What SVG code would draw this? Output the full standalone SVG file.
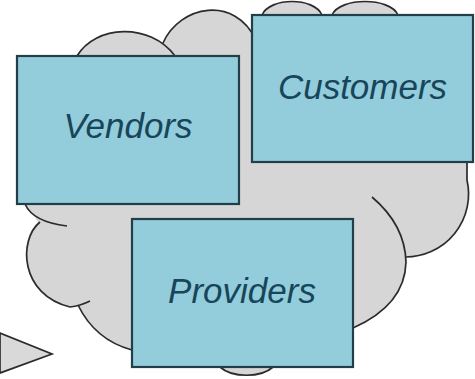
<svg xmlns="http://www.w3.org/2000/svg" width="475" height="379" viewBox="0 0 475 379">
<style>
.cf{fill:#d6d6d6;stroke:none}
.cs{fill:none;stroke:#2b2b2b;stroke-width:1.7}
.box{fill:#93ccda;stroke:#223f49;stroke-width:2.2}
.lbl{font-family:"Liberation Sans",Arial,sans-serif;font-style:italic;font-size:35px;fill:#17455a;text-anchor:middle}
</style>
<rect width="475" height="379" fill="#ffffff"/>
<g id="cloud">
<path class="cf" d="M77,56 C95,25 150,22 175,56 Z"/>
<path class="cf" d="M163,43 C180,5 235,-5 256,40 L256,56 L163,56 Z"/>
<path class="cf" d="M262,15 C270,-3 314,-3 322,15 Z"/>
<path class="cf" d="M332,15 C340,-3 390,-3 398,15 Z"/>
<path class="cf" d="M20,56 L252,56 L252,15 L470,15 L467,180 A63,63 0 0 1 405,257 L406,262 Q405,305 353,328 L353,367 L273,367 C261,378 232,378 220,367 L132,367 L132,350 Q95,340 78,305 L70,307 C20,295 18,240 38,222 L25,204 L20,204 Z"/>
<path class="cs" d="M77,56 C95,25 150,22 175,56"/>
<path class="cs" d="M163,43 C180,5 235,-5 256,40"/>
<path class="cs" d="M262,15 C270,-3 314,-3 322,15"/>
<path class="cs" d="M332,15 C340,-3 390,-3 398,15"/>
<path class="cs" d="M467,162 L467,180 A63,63 0 0 1 405,257"/>
<path class="cs" d="M372,197 Q405,225 406,262 Q405,305 353,328"/>
<path class="cs" d="M220,367 C232,378 261,378 273,367"/>
<path class="cs" d="M78,305 Q95,340 132,350"/>
<path class="cs" d="M40,222 C18,240 20,295 70,307 Q80,306 90,301"/>
<path class="cs" d="M25,204 Q33,222 67,226"/>
</g>
<path id="pointer" d="M0,333 L52,354 L0,373 Z" fill="#d9d9d9" stroke="#2b2b2b" stroke-width="1.7"/>
<g id="vendors">
<rect class="box" x="17" y="56" width="222" height="148"/>
<text class="lbl" x="128" y="138">Vendors</text>
</g>
<g id="customers">
<rect class="box" x="252" y="15" width="221" height="147"/>
<text class="lbl" x="362.5" y="99">Customers</text>
</g>
<g id="providers">
<rect class="box" x="132" y="219" width="221" height="148"/>
<text class="lbl" x="242" y="303">Providers</text>
</g>
</svg>
